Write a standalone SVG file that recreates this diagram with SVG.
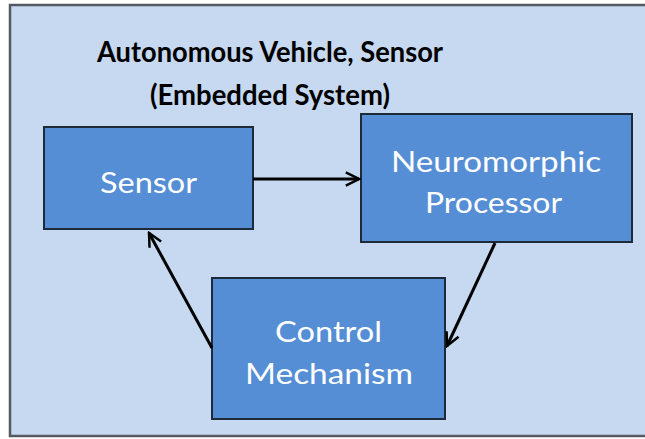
<svg xmlns="http://www.w3.org/2000/svg" width="645" height="439" viewBox="0 0 645 439">
<style>
.node{fill:#558ed5;stroke:#1f2a38;stroke-width:2}
.lbl{font-family:Lato,"Open Sans","Liberation Sans",sans-serif;font-size:29px;fill:#ffffff;text-anchor:middle}
.title{font-family:Lato,"Open Sans","Liberation Sans",sans-serif;font-size:29px;font-weight:bold;fill:#000;text-anchor:middle}
.conn{stroke:#000;stroke-width:3;fill:none;marker-end:url(#ah)}
</style>
<defs>
<marker id="ah" viewBox="0 0 10 10" refX="9" refY="5" markerWidth="5.5" markerHeight="5.5" orient="auto" markerUnits="strokeWidth">
<path d="M1,1 L9,5 L1,9" fill="none" stroke="#000" stroke-width="1.5"/>
</marker>
</defs>
<rect x="0" y="0" width="645" height="439" fill="#ffffff"/>
<rect x="10" y="5" width="640" height="431" fill="#c6d9f0" stroke="#555a60" stroke-width="2.5"/>
<g id="title">
<text class="title" x="270" y="62" textLength="346" lengthAdjust="spacingAndGlyphs">Autonomous Vehicle, Sensor</text>
<text class="title" x="270" y="105" textLength="240" lengthAdjust="spacingAndGlyphs">(Embedded System)</text>
</g>
<g id="sensor">
<rect class="node" x="44" y="127" width="209" height="102"/>
<text class="lbl" x="148.5" y="193" textLength="97" lengthAdjust="spacingAndGlyphs">Sensor</text>
</g>
<g id="processor">
<rect class="node" x="361" y="114" width="271" height="128"/>
<text class="lbl" x="496" y="172" textLength="210" lengthAdjust="spacingAndGlyphs">Neuromorphic</text>
<text class="lbl" x="493.5" y="213" textLength="137" lengthAdjust="spacingAndGlyphs">Processor</text>
</g>
<g id="control">
<rect class="node" x="212" y="278" width="233" height="141"/>
<text class="lbl" x="328.5" y="342" textLength="107" lengthAdjust="spacingAndGlyphs">Control</text>
<text class="lbl" x="329" y="384" textLength="168" lengthAdjust="spacingAndGlyphs">Mechanism</text>
</g>
<g id="connectors">
<line class="conn" x1="253" y1="179" x2="359" y2="179"/>
<line class="conn" x1="495" y1="243" x2="447" y2="346"/>
<line class="conn" x1="212" y1="348" x2="149" y2="233"/>
</g>
</svg>
